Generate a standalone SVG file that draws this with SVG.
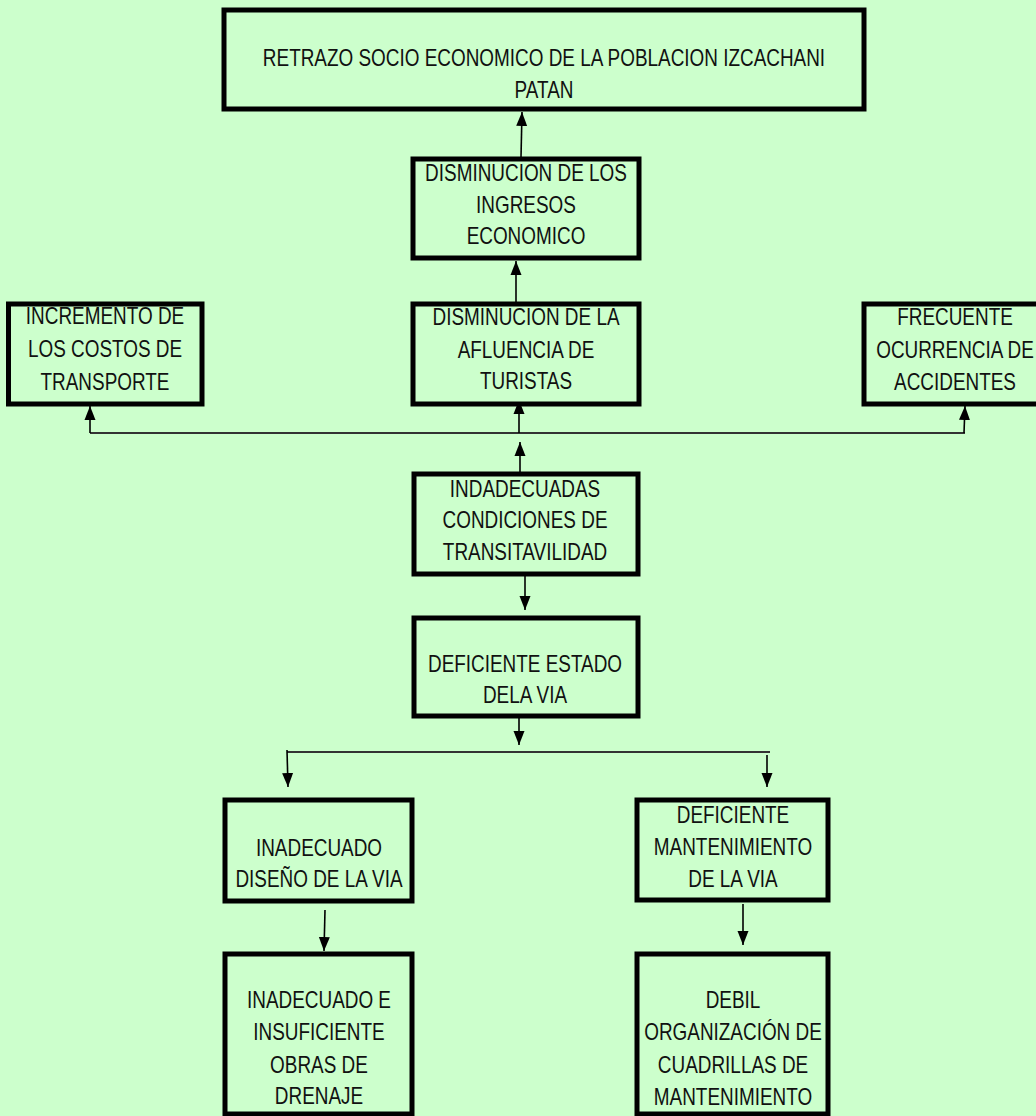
<svg xmlns="http://www.w3.org/2000/svg" width="1036" height="1116" viewBox="0 0 1036 1116">
<defs>
<style>
.box{fill:#CCFFCC;stroke:#000;stroke-width:5}
.t{font-family:"Liberation Sans",Arial,sans-serif;font-size:23px;fill:#111;text-anchor:middle}
.c{fill:none;stroke:#000;stroke-width:1.6}
.h{fill:none;stroke:#333;stroke-width:2}
</style>
<marker id="ah" markerUnits="userSpaceOnUse" markerWidth="16" markerHeight="12" refX="14" refY="6" orient="auto" viewBox="0 0 16 12">
<path d="M0,0.5 L14,6 L0,11.5 Z" fill="#000"/>
</marker>
</defs>
<rect x="0" y="0" width="1036" height="1116" fill="#CCFFCC"/>

<g id="connectors">
<line class="c" x1="521" y1="157" x2="522" y2="112" marker-end="url(#ah)"/>
<line class="c" x1="516" y1="302" x2="516" y2="261" marker-end="url(#ah)"/>
<line class="h" x1="90" y1="433" x2="965" y2="433"/>
<line class="c" x1="90" y1="433" x2="90" y2="406" marker-end="url(#ah)"/>
<line class="c" x1="519" y1="433" x2="519" y2="400" marker-end="url(#ah)"/>
<line class="c" x1="964" y1="433" x2="965" y2="406" marker-end="url(#ah)"/>
<line class="c" x1="520" y1="472" x2="520" y2="442" marker-end="url(#ah)"/>
<line class="c" x1="525" y1="576" x2="525" y2="610" marker-end="url(#ah)"/>
<line class="c" x1="519" y1="718" x2="519" y2="745" marker-end="url(#ah)"/>
<line class="h" x1="287" y1="752" x2="770" y2="752"/>
<line class="c" x1="287" y1="750" x2="288" y2="787" marker-end="url(#ah)"/>
<line class="c" x1="767" y1="755" x2="767" y2="787" marker-end="url(#ah)"/>
<line class="c" x1="325" y1="910" x2="324" y2="951" marker-end="url(#ah)"/>
<line class="c" x1="743" y1="904" x2="743" y2="945" marker-end="url(#ah)"/>
</g>

<g id="n-retrazo">
<rect class="box" x="224" y="10" width="640" height="99"/>
<text class="t" transform="translate(544 0) scale(0.823 1)"><tspan x="0" y="66">RETRAZO SOCIO ECONOMICO DE LA POBLACION IZCACHANI</tspan><tspan x="0" y="98">PATAN</tspan></text>
</g>

<g id="n-ingresos">
<rect class="box" x="413" y="159" width="226" height="99"/>
<text class="t" transform="translate(526 0) scale(0.823 1)"><tspan x="0" y="181">DISMINUCION DE LOS</tspan><tspan x="0" y="213">INGRESOS</tspan><tspan x="0" y="244">ECONOMICO</tspan></text>
</g>

<g id="n-afluencia">
<rect class="box" x="413" y="304" width="226" height="100"/>
<text class="t" transform="translate(526 0) scale(0.823 1)"><tspan x="0" y="325">DISMINUCION DE LA</tspan><tspan x="0" y="358">AFLUENCIA DE</tspan><tspan x="0" y="389">TURISTAS</tspan></text>
</g>

<g id="n-costos">
<rect class="box" x="8.5" y="304" width="193.5" height="100"/>
<text class="t" transform="translate(105 0) scale(0.823 1)"><tspan x="0" y="324">INCREMENTO DE</tspan><tspan x="0" y="357">LOS COSTOS DE</tspan><tspan x="0" y="390">TRANSPORTE</tspan></text>
</g>

<g id="n-accidentes">
<rect class="box" x="864" y="304" width="185" height="100"/>
<text class="t" transform="translate(955 0) scale(0.823 1)"><tspan x="0" y="325">FRECUENTE</tspan><tspan x="0" y="358">OCURRENCIA DE</tspan><tspan x="0" y="390">ACCIDENTES</tspan></text>
</g>

<g id="n-transitavilidad">
<rect class="box" x="414" y="474" width="224" height="100"/>
<text class="t" transform="translate(525 0) scale(0.823 1)"><tspan x="0" y="497">INDADECUADAS</tspan><tspan x="0" y="528">CONDICIONES DE</tspan><tspan x="0" y="560">TRANSITAVILIDAD</tspan></text>
</g>

<g id="n-estado">
<rect class="box" x="414" y="618" width="224" height="98"/>
<text class="t" transform="translate(525 0) scale(0.823 1)"><tspan x="0" y="672">DEFICIENTE ESTADO</tspan><tspan x="0" y="703">DELA VIA</tspan></text>
</g>

<g id="n-diseno">
<rect class="box" x="225" y="800" width="187" height="101"/>
<text class="t" transform="translate(319 0) scale(0.823 1)"><tspan x="0" y="856">INADECUADO</tspan><tspan x="0" y="887">DISEÑO DE LA VIA</tspan></text>
</g>

<g id="n-drenaje">
<rect class="box" x="225" y="954" width="187" height="160"/>
<text class="t" transform="translate(319 0) scale(0.823 1)"><tspan x="0" y="1008">INADECUADO E</tspan><tspan x="0" y="1040">INSUFICIENTE</tspan><tspan x="0" y="1073">OBRAS DE</tspan><tspan x="0" y="1104">DRENAJE</tspan></text>
</g>

<g id="n-mantenimiento">
<rect class="box" x="637" y="800" width="191" height="100"/>
<text class="t" transform="translate(733 0) scale(0.823 1)"><tspan x="0" y="823">DEFICIENTE</tspan><tspan x="0" y="855">MANTENIMIENTO</tspan><tspan x="0" y="887">DE LA VIA</tspan></text>
</g>

<g id="n-cuadrillas">
<rect class="box" x="637" y="954" width="191" height="160"/>
<text class="t" transform="translate(733 0) scale(0.823 1)"><tspan x="0" y="1008">DEBIL</tspan><tspan x="0" y="1040">ORGANIZACIÓN DE</tspan><tspan x="0" y="1073">CUADRILLAS DE</tspan><tspan x="0" y="1105">MANTENIMIENTO</tspan></text>
</g>
</svg>
